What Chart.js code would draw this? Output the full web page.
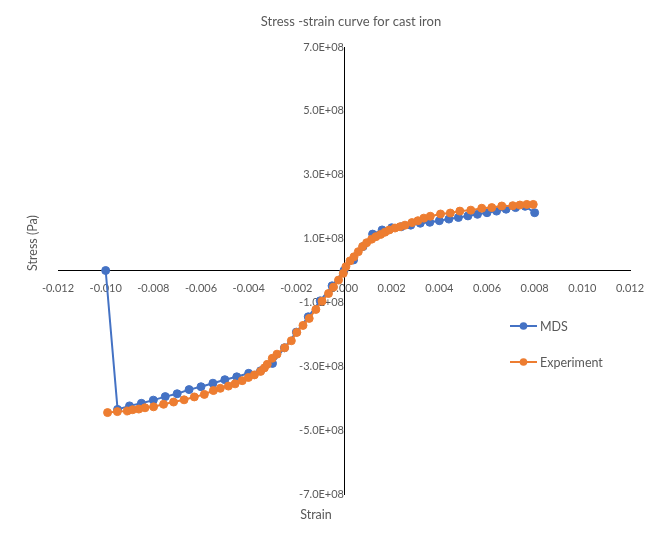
<!DOCTYPE html>
<html>
<head>
<meta charset="utf-8">
<script src="https://cdn.jsdelivr.net/npm/chart.js@4"></script>
<style>
html,body{margin:0;padding:0;background:#fff;}
#wrap{width:665px;height:539px;}
</style>
</head>
<body>
<div id="wrap"><canvas id="c" width="665" height="539"></canvas></div>
<script>
// ---- data ----
const xTicks = [-0.012,-0.010,-0.008,-0.006,-0.004,-0.002,0,0.002,0.004,0.006,0.008,0.010,0.012];
const yTicks = [-7e8,-5e8,-3e8,-1e8,1e8,3e8,5e8,7e8];

const mdsStrain = [-0.0100,-0.0095,-0.0090,-0.0085,-0.0080,-0.0075,-0.0070,-0.0065,-0.0060,-0.0055,-0.0050,-0.0045,-0.0040,-0.0035,-0.0030,-0.0025,-0.0020,-0.0015,-0.0010,-0.0005,0,0.0004,0.0008,0.0012,0.0016,0.0020,0.0024,0.0028,0.0032,0.0036,0.0040,0.0044,0.0048,0.0052,0.0056,0.0060,0.0064,0.0068,0.0072,0.0076,0.0080];
const mdsStress = [0,-4.35e8,-4.24e8,-4.16e8,-4.06e8,-3.95e8,-3.86e8,-3.73e8,-3.64e8,-3.53e8,-3.42e8,-3.33e8,-3.22e8,-3.14e8,-2.91e8,-2.42e8,-1.93e8,-1.45e8,-0.95e8,-0.48e8,0,0.33e8,0.75e8,1.14e8,1.27e8,1.34e8,1.37e8,1.42e8,1.48e8,1.51e8,1.56e8,1.61e8,1.66e8,1.71e8,1.76e8,1.81e8,1.86e8,1.92e8,1.97e8,2.01e8,1.81e8];

const expStrain = [-0.00992,-0.00951,-0.00909,-0.00887,-0.00861,-0.00835,-0.00799,-0.00757,-0.00715,-0.00671,-0.00628,-0.00586,-0.00548,-0.00519,-0.00485,-0.00457,-0.00427,-0.00401,-0.00376,-0.0035,-0.00334,-0.00322,-0.00301,-0.00281,-0.00249,-0.00221,-0.00198,-0.00172,-0.00146,-0.00118,-0.00092,-0.00065,-0.00044,-0.00023,-0.00003,0.00008,0.00025,0.00042,0.0006,0.00078,0.00095,0.00116,0.00134,0.00154,0.00172,0.0019,0.00214,0.00235,0.00256,0.00285,0.0031,0.00335,0.00362,0.00405,0.00446,0.00486,0.00532,0.00578,0.0062,0.00662,0.00708,0.00738,0.00767,0.00794];
const expStress = [-4.45e8,-4.42e8,-4.40e8,-4.36e8,-4.34e8,-4.30e8,-4.27e8,-4.19e8,-4.12e8,-4.05e8,-3.96e8,-3.88e8,-3.76e8,-3.69e8,-3.62e8,-3.55e8,-3.45e8,-3.35e8,-3.27e8,-3.16e8,-3.05e8,-2.94e8,-2.75e8,-2.62e8,-2.42e8,-2.20e8,-1.94e8,-1.72e8,-1.50e8,-1.22e8,-0.96e8,-0.72e8,-0.52e8,-0.30e8,-0.09e8,0.12e8,0.30e8,0.43e8,0.59e8,0.75e8,0.87e8,0.98e8,1.06e8,1.13e8,1.20e8,1.27e8,1.33e8,1.37e8,1.42e8,1.50e8,1.56e8,1.64e8,1.70e8,1.77e8,1.80e8,1.86e8,1.89e8,1.95e8,1.97e8,2.02e8,2.03e8,2.05e8,2.07e8,2.07e8];

const seriesNames = ['MDS','Experiment'];
const titleText = 'Stress -strain curve for cast iron';
const xTitle = 'Strain';
const yTitle = 'Stress (Pa)';

// ---- styles ----
const BLUE = '#4472C4', ORANGE = '#ED7D31', TXT = '#595959';
const FONT = 'Lato';

function pairs(xs, ys){ return xs.map((x,i)=>({x:x, y:ys[i]})); }
function fmtSci(v){
  const parts = v.toExponential(1).split('e');
  const e = parts[1];
  return parts[0] + 'E' + e[0] + e.slice(1).padStart(2,'0');
}

const decor = {
  id:'decor',
  afterDraw(chart){
    const ctx = chart.ctx;
    ctx.save();
    ctx.fillStyle = TXT;
    ctx.textBaseline = 'middle';
    ctx.textAlign = 'center';
    ctx.font = '13px ' + FONT;
    ctx.fillText(titleText, 351, 22);
    ctx.font = '12.5px ' + FONT;
    ctx.fillText(xTitle, 316, 515);
    ctx.save();
    ctx.translate(33, 243);
    ctx.rotate(-Math.PI/2);
    ctx.fillText(yTitle, 0, 0);
    ctx.restore();
    // legend
    const items = [[seriesNames[0], BLUE, 326],[seriesNames[1], ORANGE, 362]];
    items.forEach(([name,col,y])=>{
      ctx.strokeStyle = col; ctx.lineWidth = 2;
      ctx.beginPath(); ctx.moveTo(510,y); ctx.lineTo(537,y); ctx.stroke();
      ctx.fillStyle = col;
      ctx.beginPath(); ctx.arc(523.5,y,3.8,0,Math.PI*2); ctx.fill();
      ctx.fillStyle = TXT; ctx.textAlign='left'; ctx.font = '12.5px ' + FONT;
      ctx.fillText(name, 540, y+0.5);
    });
    ctx.restore();
  }
};

new Chart(document.getElementById('c'), {
  type:'scatter',
  data:{
    datasets:[
      {label:seriesNames[0], data:pairs(mdsStrain, mdsStress), showLine:true,
       borderColor:BLUE, backgroundColor:BLUE, borderWidth:2, pointRadius:4, pointBorderWidth:1,
       pointBorderColor:BLUE, pointBackgroundColor:BLUE, order:2},
      {label:seriesNames[1], data:pairs(expStrain, expStress), showLine:true,
       borderColor:ORANGE, backgroundColor:ORANGE, borderWidth:2, pointRadius:4, pointBorderWidth:1,
       pointBorderColor:ORANGE, pointBackgroundColor:ORANGE, order:1}
    ]
  },
  options:{
    responsive:false,
    animation:false,
    events:[],
    layout:{padding:{left:58, right:35, top:47, bottom:45}},
    plugins:{legend:{display:false}, title:{display:false}, tooltip:{enabled:false}},
    scales:{
      x:{type:'linear', min:-0.012, max:0.012, position:{y:0},
         grid:{display:false, drawTicks:false},
         border:{display:true, color:'#000', width:1},
         afterBuildTicks(s){ s.ticks = xTicks.map(v=>({value:v})); },
         ticks:{autoSkip:false, maxRotation:0, padding:11, color:TXT, font:{family:FONT, size:11},
                callback:(v)=>Number(v).toFixed(3)}},
      y:{type:'linear', min:-7e8, max:7e8, position:{x:0},
         grid:{display:false, drawTicks:false},
         border:{display:true, color:'#000', width:1},
         afterBuildTicks(s){ s.ticks = yTicks.map(v=>({value:v})); },
         ticks:{autoSkip:false, padding:8, color:TXT, font:{family:FONT, size:11},
                callback:(v)=>fmtSci(Number(v))}}
    }
  },
  plugins:[decor]
});
</script>
</body>
</html>
